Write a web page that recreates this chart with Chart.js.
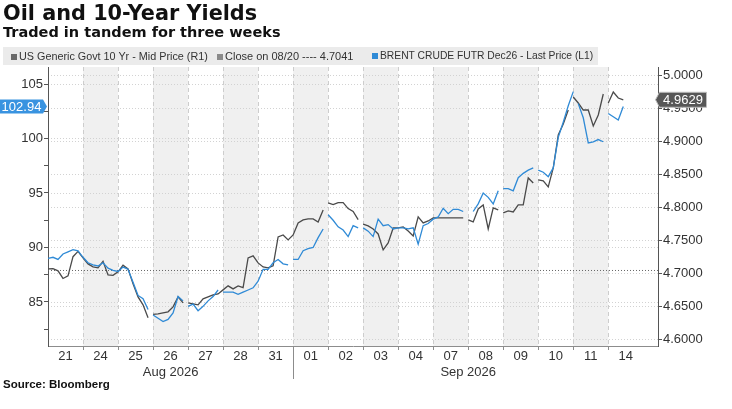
<!DOCTYPE html>
<html>
<head>
<meta charset="utf-8">
<script src="https://cdn.jsdelivr.net/npm/chart.js@4/dist/chart.umd.min.js"></script>
<style>
  html, body { margin: 0; padding: 0; background: #fff; }
  #wrap { position: relative; width: 732px; height: 409px; overflow: hidden; font-family: 'Liberation Sans', Arial, sans-serif; color: #222; }
  #chart { position: absolute; left: 0; top: 0; }
  .title { position: absolute; left: 3px; top: 3px; font: bold 20.8px 'DejaVu Sans', sans-serif; line-height: 20px; color: #111; white-space: nowrap; }
  .sub { position: absolute; left: 3px; top: 25px; font: bold 14.5px 'DejaVu Sans', sans-serif; line-height: 15px; color: #111; white-space: nowrap; }
  .legend { position: absolute; left: 3px; top: 47px; width: 595px; height: 18px; background: #ebebeb; }
  .li { position: absolute; top: 47px; line-height: 18px; color: #333; white-space: nowrap; }
  .sw { display: inline-block; width: 6px; height: 6px; margin-right: 2px; vertical-align: 0; }
  .src { position: absolute; left: 3px; top: 378px; font: bold 11.5px 'Liberation Sans', Arial, sans-serif; color: #111; white-space: nowrap; }
</style>
</head>
<body>
<div id="wrap">
  <canvas id="chart" width="732" height="409"></canvas>
  <div class="title">Oil and 10-Year Yields</div>
  <div class="sub">Traded in tandem for three weeks</div>
  <div class="legend"></div>
  <div class="li" style="left:11px;font-size:10.8px"><span class="sw" style="background:#6a6a6a"></span>US Generic Govt 10 Yr - Mid Price (R1)</div>
  <div class="li" style="left:217px;font-size:11px"><span class="sw" style="background:#8a8a8a"></span>Close on 08/20 ---- 4.7041</div>
  <div class="li" style="left:372px;font-size:10.3px"><span class="sw" style="background:#2f8ad6"></span>BRENT CRUDE FUTR Dec26 - Last Price (L1)</div>
  <div class="src">Source: Bloomberg</div>
</div>
<script>
// Jours de bourse affichés sur l'axe x, et mois (premier index de chaque mois).
const DAY_LABELS = ['21','24','25','26','27','28','31','01','02','03','04','07','08','09','10','11','14'];
const MONTHS = ['Aug 2026', 'Sep 2026'];
const MONTH_START = [0, 7];
const PER_DAY = 7;   // points intrajournaliers par jour
const X_MAX = 17.42;

// Brent Dec26 (axe gauche), 7 points par jour, null = trou
const OIL = [
  89.0, 89.1, 88.9, 89.4, 89.6, 89.8, 89.7,
  89.1, 88.6, 88.4, 88.3, 88.6, 88.1, 87.9,
  87.8, 88.2, 88.0, 86.8, 85.6, 85.3, 84.3,
  83.8, 83.5, 83.2, 83.4, 84.0, 85.5, 85.1,
  84.6, 84.8, 84.2, 84.6, 85.1, 85.5, 86.1,
  85.9, 85.9, 85.9, 85.7, 85.9, 86.1, 86.3,
  86.9, 88.0, 88.0, 88.6, 88.9, 88.5, 88.4,
  88.9, 88.9, 89.7, 89.9, 90.0, 90.9, 91.7,
  93.0, 92.5, 91.9, 91.6, 91.0, 92.0, 91.8,
  91.8, 91.5, 91.0, 92.6, 92.0, 92.1, 91.7,
  91.8, 91.8, 91.7, 91.8, 90.3, 92.0, 92.2,
  92.6, 92.8, 93.6, 93.1, 93.5, 93.5, 93.3,
  null, 93.3, 94.0, 95.0, 94.6, 94.0, 95.2,
  95.4, 95.4, 95.2, 96.4, 96.8, 97.1, 97.3,
  97.1, 96.9, 96.5, 97.3, 100.1, 101.5, 103.0,
  104.3, 103.2, 101.9, 99.6, 99.7, 99.9, 99.7,
  102.3, 102.0, 101.7, 102.94
];
// segments masqués (index du premier point) : coupures entre séances
const OIL_BREAKS = [20, 27, 34, 48, 55, 62, 90, 97, 105, 111];

// US 10 ans (axe droit)
const YIELD = [
  4.7065, 4.7070, 4.7035, 4.6920, 4.6960, 4.7250, 4.7330,
  4.7232, 4.7141, 4.7095, 4.7080, 4.7180, 4.6974, 4.6967,
  4.7020, 4.7120, 4.7065, 4.6838, 4.6641, 4.6520, 4.6323,
  4.6375, 4.6383, 4.6398, 4.6414, 4.6489, 4.6641, 4.6550,
  4.6550, 4.6535, 4.6520, 4.6611, 4.6641, 4.6671, 4.6686,
  4.6747, 4.6808, 4.6762, 4.6808, 4.6780, 4.7232, 4.7262,
  4.7156, 4.7095, 4.7080, 4.7111, 4.7550, 4.7580, 4.7505,
  4.7580, 4.7762, 4.7808, 4.7823, 4.7823, 4.7777, 4.7959,
  4.8065, 4.8041, 4.8071, 4.8071, 4.7980, 4.7935, 4.7813,
  4.7745, 4.7717, 4.7671, 4.7595, 4.7353, 4.7459, 4.7686,
  4.7686, 4.7701, 4.7640, 4.7565, 4.7853, 4.7762, 4.7792,
  4.7838, 4.7838, 4.7838, 4.7838, 4.7838, 4.7838, 4.7838,
  4.7808, 4.7777, 4.7974, 4.8035, 4.7671, 4.7990, 4.7959,
  4.7914, 4.7944, 4.7929, 4.8035, 4.8035, 4.8444, 4.8368,
  4.8414, 4.8399, 4.8308, 4.8595, 4.9095, 4.9262, 4.9474,
  4.9671, 4.9580, 4.9474, 4.9474, 4.9232, 4.9398, 4.9717,
  4.9580, 4.9747, 4.9656, 4.9629
];
const YIELD_BREAKS = [20, 27, 55, 62, 83, 90, 97, 104, 111];

const CLOSE_0820 = 4.7041;

// Graduations
const LEFT_MIN = 80.96, LEFT_MAX = 106.56;
const LEFT_TICKS = [82.5, 85, 87.5, 90, 92.5, 95, 97.5, 100, 102.5, 105];
const LEFT_LABELED = [85, 90, 95, 100, 105];
const RIGHT_MIN = 4.5896, RIGHT_MAX = 5.0126;
const RIGHT_TICKS = [4.6, 4.625, 4.65, 4.675, 4.7, 4.725, 4.75, 4.775, 4.8, 4.825, 4.85, 4.875, 4.9, 4.925, 4.95, 4.975, 5.0];
const RIGHT_LABELED = [4.6, 4.65, 4.7, 4.75, 4.8, 4.85, 4.9, 4.95, 5.0];

const COL_OIL = '#2f8ad6';
const COL_YLD = '#4a4a4a';
const FONT = "'Liberation Sans', Arial, sans-serif";

const pts = arr => arr.map((v, i) => ({ x: i / PER_DAY, y: v }));
const isIn = (list, v) => list.some(t => Math.abs(t - v) < 1e-6);
const lastOf = arr => arr[arr.length - 1];
const hideBreaks = breaks => ({ borderColor: c => breaks.includes(c.p0DataIndex) ? 'rgba(0,0,0,0)' : undefined });

// fond : bandes grises un jour sur deux, pointillés verticaux, grille horizontale
const backdrop = {
  id: 'backdrop',
  beforeDraw(chart) {
    const { ctx, chartArea: a, scales: { x, yL, yR } } = chart;
    ctx.save();
    ctx.fillStyle = '#f0f0f0';
    DAY_LABELS.forEach((_, i) => {
      if (i % 2 === 1) {
        const x0 = x.getPixelForValue(i), x1 = x.getPixelForValue(i + 1);
        ctx.fillRect(x0, a.top, x1 - x0, a.bottom - a.top);
      }
    });
    ctx.lineWidth = 1;
    ctx.strokeStyle = '#d2d2d2';
    ctx.setLineDash([1, 2]);
    const hline = y => { ctx.beginPath(); ctx.moveTo(a.left, Math.round(y) + 0.5); ctx.lineTo(a.right, Math.round(y) + 0.5); ctx.stroke(); };
    RIGHT_LABELED.forEach(v => hline(yR.getPixelForValue(v)));
    LEFT_LABELED.forEach(v => hline(yL.getPixelForValue(v)));
    ctx.setLineDash([4, 3]);
    ctx.strokeStyle = '#cdcdcd';
    for (let i = 1; i < DAY_LABELS.length; i++) {
      const px = Math.round(x.getPixelForValue(i)) + 0.5;
      ctx.beginPath(); ctx.moveTo(px, a.top); ctx.lineTo(px, a.bottom); ctx.stroke();
    }
    ctx.restore();
  },
  afterDraw(chart) {
    const { ctx, chartArea: a, scales: { x, yL, yR } } = chart;
    ctx.save();
    // petites marques sous l'axe x aux changements de jour
    ctx.strokeStyle = '#8c8c8c';
    ctx.lineWidth = 1;
    for (let i = 1; i < DAY_LABELS.length; i++) {
      const px = Math.round(x.getPixelForValue(i)) + 0.5;
      ctx.beginPath(); ctx.moveTo(px, a.bottom); ctx.lineTo(px, a.bottom + 4); ctx.stroke();
    }
    // séparateur des mois
    const sep = Math.round(x.getPixelForValue(MONTH_START[1])) + 0.5;
    ctx.beginPath(); ctx.moveTo(sep, a.bottom); ctx.lineTo(sep, a.bottom + 33); ctx.stroke();
    // libellés des mois
    ctx.fillStyle = '#333';
    ctx.font = '13px ' + FONT;
    ctx.textAlign = 'center';
    ctx.textBaseline = 'middle';
    MONTHS.forEach((m, k) => {
      const s = MONTH_START[k], e = k + 1 < MONTH_START.length ? MONTH_START[k + 1] : DAY_LABELS.length;
      ctx.fillText(m, x.getPixelForValue((s + e) / 2), a.bottom + 26);
    });
    // étiquette gauche (dernier Brent)
    const vL = lastOf(OIL), yl = yL.getPixelForValue(vL);
    ctx.fillStyle = '#3993e0';
    ctx.beginPath();
    ctx.moveTo(0, yl - 7); ctx.lineTo(43, yl - 7); ctx.lineTo(47, yl); ctx.lineTo(43, yl + 7); ctx.lineTo(0, yl + 7);
    ctx.closePath(); ctx.fill();
    ctx.fillStyle = '#fff';
    ctx.fillText(vL.toFixed(2), 21.5, yl + 0.5);
    // étiquette droite (dernier 10 ans)
    const vR = lastOf(YIELD), yr = yR.getPixelForValue(vR);
    ctx.fillStyle = '#575757';
    ctx.strokeStyle = '#bdbdbd';
    ctx.beginPath();
    ctx.moveTo(655.5, yr); ctx.lineTo(659.5, yr - 7.5); ctx.lineTo(706.5, yr - 7.5); ctx.lineTo(706.5, yr + 7.5); ctx.lineTo(659.5, yr + 7.5);
    ctx.closePath(); ctx.fill(); ctx.stroke();
    ctx.fillStyle = '#fff';
    ctx.fillText(vR.toFixed(4), 683, yr + 0.5);
    ctx.restore();
  }
};

new Chart(document.getElementById('chart'), {
  type: 'line',
  data: {
    datasets: [
      { label: 'BRENT CRUDE FUTR Dec26 - Last Price (L1)', data: pts(OIL), yAxisID: 'yL', order: 0,
        borderColor: COL_OIL, borderWidth: 1.3, pointRadius: 0, tension: 0, spanGaps: false,
        segment: hideBreaks(OIL_BREAKS) },
      { label: 'US Generic Govt 10 Yr - Mid Price (R1)', data: pts(YIELD), yAxisID: 'yR', order: 1,
        borderColor: COL_YLD, borderWidth: 1.3, pointRadius: 0, tension: 0, spanGaps: false,
        segment: hideBreaks(YIELD_BREAKS) },
      { label: 'Close on 08/20', data: [{ x: 0, y: CLOSE_0820 }, { x: X_MAX, y: CLOSE_0820 }], yAxisID: 'yR', order: 2,
        borderColor: '#666', borderWidth: 1, borderDash: [1, 2], pointRadius: 0 }
    ]
  },
  options: {
    responsive: false,
    animation: false,
    layout: { padding: { left: 0, right: 0, top: 67, bottom: 0 } },
    plugins: { legend: { display: false }, tooltip: { enabled: false } },
    scales: {
      x: {
        type: 'linear', min: 0, max: X_MAX,
        afterBuildTicks: s => { s.ticks = DAY_LABELS.map((_, i) => ({ value: i + 0.5 })); },
        afterFit: s => { s.height = 63; },
        grid: { display: false, drawTicks: false },
        border: { display: true, color: '#8c8c8c' },
        ticks: { autoSkip: false, maxRotation: 0, padding: 3, color: '#333', font: { size: 13, family: FONT },
                 callback: (v, i) => DAY_LABELS[i] }
      },
      yL: {
        position: 'left', min: LEFT_MIN, max: LEFT_MAX,
        afterBuildTicks: s => { s.ticks = LEFT_TICKS.map(v => ({ value: v })); },
        afterFit: s => { s.width = 48; },
        grid: { drawOnChartArea: false, tickLength: 4, tickColor: '#555' },
        border: { display: true, color: '#555' },
        ticks: { padding: 1, color: '#333', font: { size: 13, family: FONT },
                 callback: v => isIn(LEFT_LABELED, v) ? String(v) : '' }
      },
      yR: {
        position: 'right', min: RIGHT_MIN, max: RIGHT_MAX,
        afterBuildTicks: s => { s.ticks = RIGHT_TICKS.map(v => ({ value: v })); },
        afterFit: s => { s.width = 74; },
        grid: { drawOnChartArea: false, tickLength: 4, tickColor: '#555' },
        border: { display: true, color: '#555' },
        ticks: { padding: 1, color: '#333', font: { size: 13, family: FONT },
                 callback: v => isIn(RIGHT_LABELED, v) ? v.toFixed(4) : '' }
      }
    }
  },
  plugins: [backdrop]
});
</script>
</body>
</html>
